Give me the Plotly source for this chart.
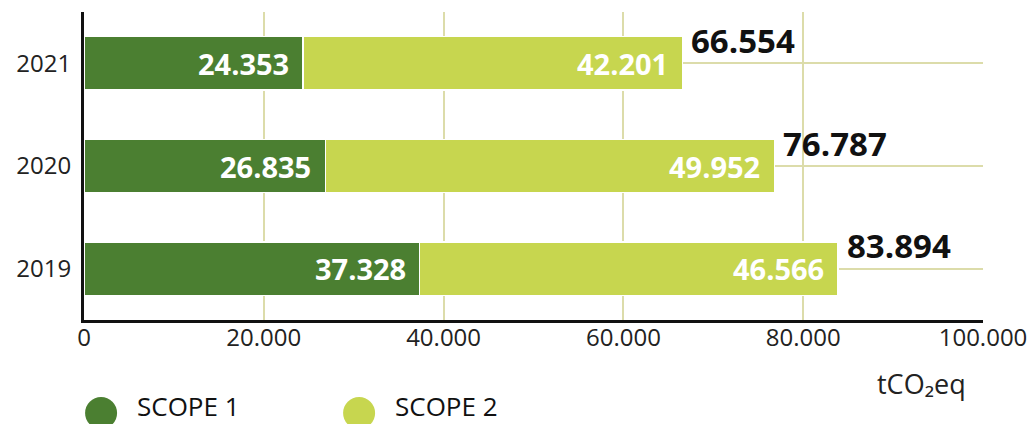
import plotly.graph_objects as go

years = ["2019", "2020", "2021"]
scope1 = [37328, 26835, 24353]
scope2 = [46566, 49952, 42201]
series_names = ["SCOPE 1", "SCOPE 2"]
x_ticks = [0, 20000, 40000, 60000, 80000, 100000]
unit_label = "tCO₂eq"

C1 = "#4b7f31"
C2 = "#c7d64f"
GRID = "#dcdcaa"
FONT = "Open Sans"


def fmt(v):
    return f"{v:,}".replace(",", ".")


fig = go.Figure()
fig.add_trace(go.Bar(y=years, x=scope1, orientation="h", name=series_names[0],
                     marker=dict(color=C1, line=dict(color="white", width=1.5)),
                     showlegend=False, hoverinfo="x"))
fig.add_trace(go.Bar(y=years, x=scope2, orientation="h", name=series_names[1],
                     marker=dict(color=C2, line=dict(color="white", width=1.5)),
                     showlegend=False, hoverinfo="x"))

annotations = []
for i, (a, b) in enumerate(zip(scope1, scope2)):
    annotations.append(dict(x=a, y=i, xref="x", yref="y", text=fmt(a), showarrow=False,
                            xanchor="right", xshift=-12,
                            font=dict(family=FONT, size=29, color="white", weight="bold")))
    annotations.append(dict(x=a + b, y=i, xref="x", yref="y", text=fmt(b), showarrow=False,
                            xanchor="right", xshift=-12,
                            font=dict(family=FONT, size=29, color="white", weight="bold")))
    annotations.append(dict(x=a + b, y=i, xref="x", yref="y", text=fmt(a + b), showarrow=False,
                            xanchor="left", xshift=7, yshift=23,
                            font=dict(family=FONT, size=33, color="#111111", weight="bold")))

annotations.append(dict(xref="paper", yref="paper", x=0.932, y=-0.205, text=unit_label,
                        showarrow=False, xanchor="center", yanchor="middle",
                        font=dict(family=FONT, size=27, color="#222222")))

# manual circular legend
shapes = []
legend_x = [0.019, 0.306]
for name, col, lx in zip(series_names, [C1, C2], legend_x):
    shapes.append(dict(type="circle", xref="paper", yref="paper", xsizemode="pixel",
                       ysizemode="pixel", xanchor=lx, yanchor=-0.302,
                       x0=-16, x1=16, y0=-16, y1=16, fillcolor=col, line=dict(width=0)))
    annotations.append(dict(xref="paper", yref="paper", x=lx, y=-0.279, xshift=34,
                            text=name, showarrow=False, xanchor="left", yanchor="middle",
                            font=dict(family=FONT, size=26, color="#111111")))

fig.update_layout(
    width=1027, height=416,
    margin=dict(l=76, r=52, t=4, b=104),
    barmode="stack", bargap=0.48,
    separators=",.",
    plot_bgcolor="white", paper_bgcolor="white",
    font=dict(family=FONT, color="#222222"),
    annotations=annotations, shapes=shapes,
    xaxis=dict(range=[0, 100000], tickvals=x_ticks, tickformat=",d", automargin=False,
               showgrid=True, gridcolor=GRID, gridwidth=1.5, zeroline=False,
               showline=True, linecolor="#111111", linewidth=3, layer="below traces",
               ticks="", ticklabelstandoff=-6, tickfont=dict(size=24, color="#222222")),
    yaxis=dict(type="category", categoryorder="array", categoryarray=years, range=[-0.5, 2.5],
               automargin=False,
               showgrid=True, gridcolor=GRID, gridwidth=1.5, zeroline=False,
               showline=True, linecolor="#111111", linewidth=3, layer="below traces",
               ticks="", ticklabelstandoff=5, tickfont=dict(size=24, color="#222222")),
)

fig.write_html("out.html")
